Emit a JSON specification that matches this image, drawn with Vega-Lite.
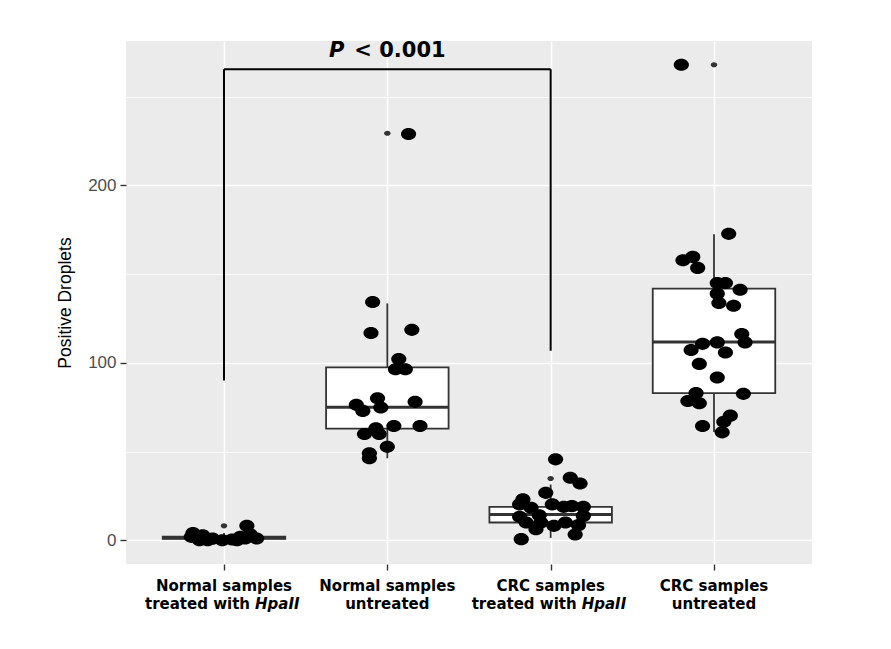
{
  "$schema": "https://vega.github.io/schema/vega-lite/v6.json",
  "width": 686,
  "height": 523,
  "autosize": {"type": "none"},
  "padding": {"left": 126, "top": 41, "right": 79, "bottom": 85},
  "background": "white",
  "config": {"view": {"fill": "#EBEBEB", "stroke": null}},
  "datasets": {
    "points": [
      {"gi": 1, "jit": -0.20, "value": 1.9}, {"gi": 1, "jit": -0.19, "value": 4.1}, {"gi": 1, "jit": -0.15, "value": 0},
      {"gi": 1, "jit": -0.13, "value": 2.8}, {"gi": 1, "jit": -0.10, "value": 0}, {"gi": 1, "jit": -0.07, "value": 0.9},
      {"gi": 1, "jit": -0.01, "value": 0}, {"gi": 1, "jit": 0.05, "value": 0.4}, {"gi": 1, "jit": 0.08, "value": 0},
      {"gi": 1, "jit": 0.10, "value": 1.9}, {"gi": 1, "jit": 0.13, "value": 1.0}, {"gi": 1, "jit": 0.14, "value": 8.1},
      {"gi": 1, "jit": 0.16, "value": 3.4}, {"gi": 1, "jit": 0.20, "value": 1.0},
      {"gi": 2, "jit": -0.09, "value": 134.3}, {"gi": 2, "jit": -0.10, "value": 116.8}, {"gi": 2, "jit": 0.15, "value": 118.6},
      {"gi": 2, "jit": 0.07, "value": 102.1}, {"gi": 2, "jit": 0.05, "value": 96.4}, {"gi": 2, "jit": 0.11, "value": 96.4},
      {"gi": 2, "jit": -0.06, "value": 80}, {"gi": 2, "jit": 0.17, "value": 78}, {"gi": 2, "jit": -0.19, "value": 76.3},
      {"gi": 2, "jit": -0.04, "value": 74.8}, {"gi": 2, "jit": -0.15, "value": 72.9}, {"gi": 2, "jit": 0.04, "value": 64.4},
      {"gi": 2, "jit": 0.20, "value": 64.4}, {"gi": 2, "jit": -0.07, "value": 63.1}, {"gi": 2, "jit": -0.14, "value": 59.9},
      {"gi": 2, "jit": -0.05, "value": 59.9}, {"gi": 2, "jit": 0.00, "value": 52.7}, {"gi": 2, "jit": -0.11, "value": 49},
      {"gi": 2, "jit": -0.11, "value": 46.2}, {"gi": 2, "jit": 0.13, "value": 229},
      {"gi": 3, "jit": 0.03, "value": 45.6}, {"gi": 3, "jit": 0.12, "value": 35.2}, {"gi": 3, "jit": 0.18, "value": 32},
      {"gi": 3, "jit": -0.03, "value": 26.7}, {"gi": 3, "jit": -0.17, "value": 23}, {"gi": 3, "jit": -0.19, "value": 20.2},
      {"gi": 3, "jit": -0.12, "value": 18.3}, {"gi": 3, "jit": 0.01, "value": 20.2}, {"gi": 3, "jit": 0.08, "value": 18.8},
      {"gi": 3, "jit": 0.13, "value": 19.2}, {"gi": 3, "jit": 0.20, "value": 18.8}, {"gi": 3, "jit": -0.07, "value": 14.1},
      {"gi": 3, "jit": -0.19, "value": 13.2}, {"gi": 3, "jit": 0.20, "value": 13.7}, {"gi": 3, "jit": -0.15, "value": 10},
      {"gi": 3, "jit": -0.06, "value": 10}, {"gi": 3, "jit": 0.02, "value": 8.1}, {"gi": 3, "jit": 0.09, "value": 10},
      {"gi": 3, "jit": 0.17, "value": 8.5}, {"gi": 3, "jit": -0.09, "value": 6.2}, {"gi": 3, "jit": 0.15, "value": 3.2},
      {"gi": 3, "jit": -0.18, "value": 0.6},
      {"gi": 4, "jit": 0.09, "value": 172.7}, {"gi": 4, "jit": -0.13, "value": 159.7}, {"gi": 4, "jit": -0.19, "value": 157.8},
      {"gi": 4, "jit": -0.10, "value": 153.5}, {"gi": 4, "jit": 0.02, "value": 145}, {"gi": 4, "jit": 0.07, "value": 145},
      {"gi": 4, "jit": 0.16, "value": 141.2}, {"gi": 4, "jit": 0.02, "value": 139}, {"gi": 4, "jit": 0.03, "value": 133.7},
      {"gi": 4, "jit": 0.12, "value": 132.2}, {"gi": 4, "jit": 0.17, "value": 116.2}, {"gi": 4, "jit": 0.19, "value": 111.5},
      {"gi": 4, "jit": -0.07, "value": 110.7}, {"gi": 4, "jit": 0.02, "value": 111.5}, {"gi": 4, "jit": -0.14, "value": 107.2},
      {"gi": 4, "jit": 0.07, "value": 105.8}, {"gi": 4, "jit": -0.09, "value": 99.4}, {"gi": 4, "jit": 0.02, "value": 91.7},
      {"gi": 4, "jit": -0.11, "value": 82.9}, {"gi": 4, "jit": 0.18, "value": 82.5}, {"gi": 4, "jit": -0.16, "value": 78.5},
      {"gi": 4, "jit": -0.09, "value": 77.2}, {"gi": 4, "jit": 0.10, "value": 70.2}, {"gi": 4, "jit": 0.06, "value": 66.8},
      {"gi": 4, "jit": -0.07, "value": 64.4}, {"gi": 4, "jit": 0.05, "value": 60.8}, {"gi": 4, "jit": -0.20, "value": 268}
    ],
    "outliers": [
      {"gi": 1, "value": 8.1}, {"gi": 2, "value": 229.4}, {"gi": 3, "value": 34.8}, {"gi": 4, "value": 268}
    ],
    "box": [
      {"gi": 1, "lower": 0, "q1": 0.8, "median": 1.4, "q3": 2.0, "upper": 4.1},
      {"gi": 2, "lower": 46.2, "q1": 62.9, "median": 75.0, "q3": 97.4, "upper": 133.5},
      {"gi": 3, "lower": 1.3, "q1": 10.0, "median": 14.5, "q3": 18.8, "upper": 31.4},
      {"gi": 4, "lower": 61.0, "q1": 82.9, "median": 111.7, "q3": 141.8, "upper": 172.5}
    ],
    "bracket": [
      {"a": 1, "b": 3, "from": 265.5, "to": 265.5},
      {"a": 1, "b": 1, "from": 90, "to": 265.5},
      {"a": 3, "b": 3, "from": 106.8, "to": 265.5}
    ],
    "xlabels": [
      {"gi": 1, "l1": "Normal samples", "l2": "treated with", "it": "HpaII"},
      {"gi": 2, "l1": "Normal samples", "l2": "untreated", "it": ""},
      {"gi": 3, "l1": "CRC samples", "l2": "treated with", "it": "HpaII"},
      {"gi": 4, "l1": "CRC samples", "l2": "untreated", "it": ""}
    ]
  },
  "layer": [
    {
      "data": {"name": "box"},
      "mark": {"type": "rule", "color": "#333333", "strokeWidth": 1.8},
      "encoding": {
        "x": {"field": "gi", "type": "quantitative", "title": null,
          "scale": {"domain": [0.4, 4.6], "nice": false, "zero": false},
          "axis": {"values": [1, 2, 3, 4], "labels": false, "domain": false, "grid": true, "gridColor": "white", "gridWidth": 1.6,
            "tickColor": "#333333", "tickSize": 6, "tickWidth": 1.4, "title": null}},
        "y": {"field": "lower", "type": "quantitative", "title": "Positive Droplets",
          "scale": {"domain": [-13.4, 281.4], "nice": false, "zero": false},
          "axis": {"values": [0, 50, 100, 150, 200, 250], "domain": false, "grid": true, "gridColor": "white",
            "gridWidth": {"expr": "datum.value % 100 == 0 ? 1.6 : 0.8"},
            "tickOpacity": {"expr": "datum.value % 100 == 0 ? 1 : 0"},
            "labelExpr": "datum.value % 100 == 0 ? datum.label : ''",
            "tickColor": "#333333", "tickSize": 6, "tickWidth": 1.4, "labelPadding": 4,
            "labelFont": "Liberation Sans", "labelFontSize": 17, "labelColor": "#4D4D4D",
            "title": "Positive Droplets", "titleFont": "Liberation Sans", "titleFontSize": 17.5, "titleFontWeight": "normal",
            "titleColor": "black", "titlePadding": 13}},
        "y2": {"field": "q1"}
      }
    },
    {
      "data": {"name": "box"},
      "mark": {"type": "rule", "color": "#333333", "strokeWidth": 1.8},
      "encoding": {
        "x": {"field": "gi", "type": "quantitative"},
        "y": {"field": "q3", "type": "quantitative"},
        "y2": {"field": "upper"}
      }
    },
    {
      "data": {"name": "box"},
      "transform": [
        {"calculate": "datum.gi - 0.375", "as": "xl"},
        {"calculate": "datum.gi + 0.375", "as": "xr"}
      ],
      "mark": {"type": "rect", "fill": "white", "stroke": "#333333", "strokeWidth": 1.8},
      "encoding": {
        "x": {"field": "xl", "type": "quantitative"},
        "x2": {"field": "xr"},
        "y": {"field": "q1", "type": "quantitative"},
        "y2": {"field": "q3"}
      }
    },
    {
      "data": {"name": "box"},
      "transform": [
        {"calculate": "datum.gi - 0.375", "as": "xl"},
        {"calculate": "datum.gi + 0.375", "as": "xr"}
      ],
      "mark": {"type": "rule", "color": "#333333", "strokeWidth": 3},
      "encoding": {
        "x": {"field": "xl", "type": "quantitative"},
        "x2": {"field": "xr"},
        "y": {"field": "median", "type": "quantitative"}
      }
    },
    {
      "data": {"name": "outliers"},
      "mark": {"type": "point", "filled": true, "opacity": 1, "color": "#333333", "size": 42,
        "shape": "M-1,0A1,0.8,0,1,1,1,0A1,0.8,0,1,1,-1,0Z"},
      "encoding": {
        "x": {"field": "gi", "type": "quantitative"},
        "y": {"field": "value", "type": "quantitative"}
      }
    },
    {
      "data": {"name": "points"},
      "transform": [{"calculate": "datum.gi + datum.jit", "as": "xpos"}],
      "mark": {"type": "point", "filled": true, "opacity": 1, "color": "black", "size": 230,
        "shape": "M-1,0A1,0.8,0,1,1,1,0A1,0.8,0,1,1,-1,0Z"},
      "encoding": {
        "x": {"field": "xpos", "type": "quantitative"},
        "y": {"field": "value", "type": "quantitative"}
      }
    },
    {
      "data": {"name": "bracket"},
      "mark": {"type": "rule", "color": "black", "strokeWidth": 2},
      "encoding": {
        "x": {"field": "a", "type": "quantitative"},
        "x2": {"field": "b"},
        "y": {"field": "from", "type": "quantitative"},
        "y2": {"field": "to"}
      }
    },
    {
      "data": {"values": [{"t": "P"}]},
      "mark": {"type": "text", "align": "right", "baseline": "middle", "dx": -43, "font": "DejaVu Sans", "fontSize": 21,
        "fontWeight": "bold", "fontStyle": "italic", "color": "black"},
      "encoding": {
        "x": {"datum": 2, "type": "quantitative"},
        "y": {"datum": 275.7, "type": "quantitative"},
        "text": {"field": "t"}
      }
    },
    {
      "data": {"values": [{"t": "< 0.001"}]},
      "mark": {"type": "text", "align": "left", "baseline": "middle", "dx": -33, "font": "DejaVu Sans", "fontSize": 21,
        "fontWeight": "bold", "color": "black"},
      "encoding": {
        "x": {"datum": 2, "type": "quantitative"},
        "y": {"datum": 275.7, "type": "quantitative"},
        "text": {"field": "t"}
      }
    },
    {
      "data": {"name": "xlabels"},
      "mark": {"type": "text", "align": "center", "baseline": "middle", "font": "DejaVu Sans", "fontSize": 15,
        "fontWeight": "bold", "color": "black"},
      "encoding": {
        "x": {"field": "gi", "type": "quantitative"},
        "y": {"datum": -25.6, "type": "quantitative"},
        "text": {"field": "l1"}
      }
    },
    {
      "data": {"name": "xlabels"},
      "transform": [{"filter": "datum.it == ''"}],
      "mark": {"type": "text", "align": "center", "baseline": "middle", "font": "DejaVu Sans", "fontSize": 15,
        "fontWeight": "bold", "color": "black"},
      "encoding": {
        "x": {"field": "gi", "type": "quantitative"},
        "y": {"datum": -35.7, "type": "quantitative"},
        "text": {"field": "l2"}
      }
    },
    {
      "data": {"name": "xlabels"},
      "transform": [{"filter": "datum.it != ''"}],
      "mark": {"type": "text", "align": "right", "baseline": "middle", "dx": 26, "font": "DejaVu Sans", "fontSize": 15,
        "fontWeight": "bold", "color": "black"},
      "encoding": {
        "x": {"field": "gi", "type": "quantitative"},
        "y": {"datum": -35.7, "type": "quantitative"},
        "text": {"field": "l2"}
      }
    },
    {
      "data": {"name": "xlabels"},
      "transform": [{"filter": "datum.it != ''"}],
      "mark": {"type": "text", "align": "left", "baseline": "middle", "dx": 31, "font": "DejaVu Sans", "fontSize": 15,
        "fontWeight": "bold", "fontStyle": "italic", "color": "black"},
      "encoding": {
        "x": {"field": "gi", "type": "quantitative"},
        "y": {"datum": -35.7, "type": "quantitative"},
        "text": {"field": "it"}
      }
    }
  ]
}
